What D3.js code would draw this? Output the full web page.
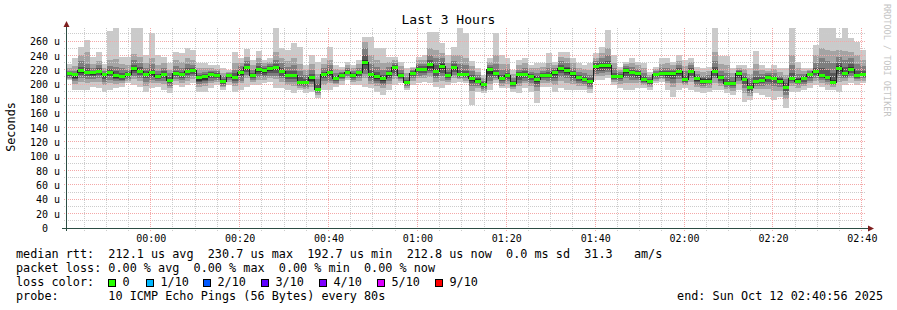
<!DOCTYPE html>
<html>
<head>
<meta charset="utf-8">
<script src="https://cdn.jsdelivr.net/npm/d3@7"></script>
<style>
  body{margin:0;background:#fff}
  svg{display:block}
  text{font-family:'DejaVu Sans Mono',monospace;fill:#000}
</style>
</head>
<body>
<svg id="chart" width="897" height="310"></svg>
<script>
// ---- data (microseconds), one value per 80s step, 23:40:56 -> 02:40:56 ----
const endTime = new Date(2025, 9, 12, 2, 40, 56);
const stepSec = 80;

const median = [214.2,212.8,219.3,216.9,215.6,218.3,212.8,216.5,212.3,210.0,213.7,221.6,218.3,213.7,215.6,210.5,213.7,205.4,215.1,213.7,217.4,218.8,209.5,210.5,213.7,211.9,203.5,211.4,209.5,216.5,223.4,211.9,220.2,218.8,
  222.0,223.4,218.3,212.3,212.3,201.7,201.7,209.1,192.7,212.8,215.6,207.7,212.3,216.9,211.9,215.6,230.7,212.8,210.5,207.2,215.1,223.0,211.9,201.7,215.1,220.7,220.7,226.7,217.9,224.8,211.9,223.0,212.8,212.8,
  208.1,204.4,198.9,220.2,214.2,207.2,211.9,200.7,212.8,213.7,210.5,206.7,211.9,211.9,215.6,222.0,219.3,215.1,209.1,206.7,203.5,223.9,225.3,225.3,210.0,210.9,218.8,216.0,214.2,206.7,203.5,212.8,214.2,
  214.2,214.2,217.4,206.7,218.3,207.2,204.4,204.4,218.3,208.6,201.2,200.7,215.1,206.7,195.6,203.5,205.4,209.5,208.1,204.4,195.6,208.1,204.4,207.2,212.8,217.4,211.4,209.1,202.6,222.0,214.2,220.7,211.9,212.8];

// sorted pings: ping1 = fastest ... ping10 = slowest
const ping1 = [205.8,191.9,191.9,191.9,196.6,194.2,189.6,191.9,194.2,196.6,201.2,198.9,196.6,189.6,194.2,196.6,191.9,187.3,198.9,196.6,198.9,201.2,189.6,189.6,194.2,198.9,191.9,198.9,189.6,191.9,196.6,198.9,198.9,201.2,
  203.5,194.2,194.2,191.9,187.3,191.9,187.3,189.6,180.3,191.9,191.9,196.6,198.9,205.8,198.9,198.9,196.6,194.2,189.6,185.0,191.9,198.9,201.2,191.9,198.9,201.2,203.5,201.2,196.6,194.2,198.9,201.2,203.5,201.2,
  171.1,189.6,187.3,191.9,201.2,194.2,194.2,189.6,187.3,194.2,189.6,173.4,196.6,196.6,189.6,194.2,191.9,191.9,191.9,191.9,187.3,205.8,205.8,208.1,198.9,194.2,191.9,191.9,194.2,194.2,191.9,201.2,203.5,
  191.9,182.6,191.9,194.2,191.9,189.6,187.3,189.6,191.9,191.9,187.3,185.0,191.9,175.7,178.0,187.3,185.0,182.6,178.0,182.6,166.4,189.6,189.6,191.9,194.2,198.9,196.6,191.9,191.9,189.6,198.9,201.2,198.9,201.2];
const ping10 = [227.6,236.0,252.2,261.4,238.3,245.2,227.6,274.0,277.7,238.3,238.3,277.7,277.7,240.6,270.7,240.6,238.3,229.0,244.3,242.9,249.9,247.5,229.0,229.0,226.7,226.7,222.0,219.7,245.2,236.9,248.9,233.6,246.1,233.6,
  236.0,277.7,249.9,247.5,256.8,252.2,226.7,240.6,231.3,236.0,252.2,226.7,224.4,231.3,226.7,233.6,266.1,266.1,249.9,249.9,238.3,238.3,231.3,222.0,224.4,238.3,240.6,273.0,273.0,256.8,240.6,252.2,277.7,270.7,
  232.2,222.0,212.8,236.0,270.7,240.6,236.9,219.7,233.6,236.0,226.7,229.0,229.0,242.9,231.3,245.2,245.2,236.0,229.0,226.7,229.0,242.9,252.2,275.4,240.6,224.4,231.3,236.9,230.4,229.0,217.4,224.4,236.0,
  236.0,231.3,240.6,233.6,236.0,224.4,222.0,224.4,277.7,239.7,239.7,222.0,226.7,226.7,222.0,246.1,226.7,222.0,226.7,222.0,222.0,277.7,231.3,222.0,222.0,254.5,277.7,277.7,277.7,263.8,277.7,263.8,259.1,247.5];
const ping2 = [207,200,203,202,203,203,199,201,200,201,204,207,204,198,202,201,200,194,204,202,205,207,196,197,201,203,196,203,198,201,208,203,206,206,
  208,207,203,199,198,195,193,196,185,199,201,200,204,209,203,204,208,200,198,195,200,207,205,195,205,208,209,210,203,205,203,208,207,205,
  190,195,191,200,206,198,200,193,197,201,198,190,202,202,199,204,202,200,198,197,193,211,212,213,203,200,202,201,202,199,196,205,207,
  201,196,202,199,203,196,194,195,202,198,193,191,200,188,184,193,193,193,190,191,179,197,195,197,201,205,202,199,196,203,205,208,204,205];
const ping9 = [222,225,240,245,228,232,222,234,235,228,227,242,238,230,236,226,229,220,233,231,236,233,222,222,222,221,215,217,229,230,238,226,236,229,
  231,245,236,232,236,228,220,228,214,228,234,221,220,226,222,228,258,240,234,230,231,234,225,215,222,233,234,250,248,244,230,240,240,236,
  225,217,209,231,240,228,228,214,227,229,222,222,224,230,227,238,236,230,223,221,220,237,243,250,230,220,228,230,226,222,213,221,228,
  229,226,232,225,231,219,217,218,245,228,226,215,223,221,214,228,220,218,221,217,213,240,222,218,220,240,250,248,246,248,246,245,240,234];
const ping3 = [209,204,208,207,207,209,203,206,204,204,207,212,209,203,206,204,204,198,207,206,209,211,200,201,205,206,198,206,202,205,213,206,210,210,
  212,212,208,203,203,197,196,200,188,204,205,202,207,211,206,208,214,204,202,199,205,212,207,197,208,212,213,215,208,211,206,213,209,208,
  197,198,193,205,208.5,201,204,195.5,202,205,202,196,205.5,205,204,210,208,205,201.5,200,196.5,214.5,216,216.5,205.5,204,208,206,206,201.5,198.5,207.5,209,
  205,202,207,201.5,208,199.5,197.5,198.5,208,201.5,196,194.5,204.5,195,188,197,197.5,199,197,196,185,201,198.5,200.5,205,209,205.5,203,198.5,209,208,212,206.5,208];
const ping8 = [219,219,232,228,222,226,218,225,224,222,220,233,230,222,228,219,222,215,225,222,228,227,216,217,219,218,211,215,220,225,232,220,229,225,
  228,234,229,224,226,218,213,220,207,222,227,216,217,222,218,222,250,228,224,220,224,230,220,210,220,228,228,240,236,236,222,232,228,226,
  218,213,205,227,228,220,221,209,220,222,217,216,219,222,223,232,229,223,217,215,213,232,236,240,222,217,225,224,221,216,210,218,222,
  223,221,226,218,226,214,212,213,232,219,216,210,220,216,208,218,214,215,216,212,207,226,214,214,218,230,236,232,230,238,234,236,228,225];
const ping4 = [211,207,213,211,211,213,207,211,207,206,210,216,213,208,210,207,208,201,211,209,213,214,203,204,208,208.5,200,208,205,210,217,208.5,214,213,
  215,216,212,207,207,199,198.5,203,190,208,210,204,209,213.5,208.5,211,220,208,205,202,209,216,209,199,211,215,216,219,212,216,208.5,217,210.5,210,
  202,201,195.5,210,211,204,207.5,197.5,206,209,205.5,200,208,208,209,215,213,209,204.5,203,199.5,218,219,220,207.5,207,212,210,209,203.5,200.5,210,211,
  209,207,211,203.5,212,202.5,200.5,201,212,204.5,198.5,197,208.5,200,191,200,201,203.5,202,200,190,204.5,201.5,203.5,208.5,213,208,206,200.5,214,210.5,215.5,209,210.5];
const ping7 = [217,216,224,222,219,222,216,221,218,216,217,227,224,218,221,214,218,210,219,217,222,223,213,214,217,215,207,213.5,215,221,228,216,225,222,
  225.5,228,223,218,219,210,207,214,200,217,221,212,215,220,215.5,219,240,220,217,213,219,227,216,206,218,225,225,233,226,231,217,228,220,219,
  213,209,202.5,224,220,213,216,205,217,218,214,211,216,217,220,227,224,219,213,211,208,229,231,232,215,214,222,220,218,211,207,216,218,
  219,218,222,211,222,211,208,208,224,213,207,205,218,212,201,210,210,213,212,208,201,215,209,211,216,223,222,220,216,230,224,228,219,218];
const ping5 = [212.5,208,216,214,213,216,210,214,209,208,212,219,216,211,213,208.5,211,203,213,211.5,215,216.5,205,206,211,210,201.5,209.5,207,213,220,210,217,216,
  218,220,215,209.5,209.5,200,200,205,191,210.5,213,205.5,210.5,215,210,213.5,226,210.5,207.5,204.5,212,220,210.5,200,213,218,218.5,223,215,221,210,220,211.5,211.5,
  205,202.5,197,214,212.5,205.5,210,199,209.5,211.5,208,203.5,210,210,212.5,219,216,212,207,205,201.5,221,222.5,223,208.5,209,216,213.5,212,205,202,211.5,212.5,
  212,211,214.5,205,215.5,205,202.5,203,215.5,206.5,200,199,212,204,193.5,202,203.5,207,205.5,202.5,193,206.5,203,205.5,211,215.5,210,207.5,201.5,218.5,212.5,218.5,210.5,211.5];
const ping6 = [215.5,214,221,219,217,220,214.5,218,214,212,215.5,224,220,215.5,217,212,215.5,207,217,215.5,219,220.5,211,212,215.5,213.5,205,212.5,211,218,225,213.5,222,220.5,
  223.5,225,220,214,214,204,203.5,210.5,195,214.5,217.5,209.5,213.5,218.5,213.5,217.5,234,215,212.5,209.5,217,225,213.5,203.5,217,223,223,229.5,220.5,227.5,214,225.5,215,215,
  210.5,206.5,201,222,216,209.5,214,203,215,216,212.5,209,214,214,218,224.5,222,217,211,209,205.5,226,228,228,212,213,221,218,216,209,205.5,214.5,216,
  216,216,219.5,209,220,209,206.5,206.5,220.5,211,203.5,203,217,209,198,205.5,207.5,211.5,210,206.5,198,210.5,206.5,209,214.5,219.5,214,212,205.5,225,217,223.5,214,215];

// axis ticks and legend text
const yTicks = [0, 20, 40, 60, 80, 100, 120, 140, 160, 180, 200, 220, 240, 260];
const yMinor = [10, 30, 50, 70, 90, 110, 130, 150, 170, 190, 210, 230, 250, 270];
const legendLines = [
  'median rtt:  212.1 us avg  230.7 us max  192.7 us min  212.8 us now  0.0 ms sd  31.3   am/s',
  'packet loss: 0.00 % avg  0.00 % max  0.00 % min  0.00 % now',
  'loss color:',
  'probe:       10 ICMP Echo Pings (56 Bytes) every 80s'
];
const lossLabels = ['0', '1/10', '2/10', '3/10', '4/10', '5/10', '9/10'];
const lossColors = ['#26ff00', '#00b8ff', '#0059ff', '#5e00ff', '#7e00ff', '#dd00ff', '#ff0000'];
const endLabel = 'end: Sun Oct 12 02:40:56 2025';

// ---- chart ----
const svg = d3.select('#chart');
const pL = 66, pR = 866, pT = 28, pB = 228;
const n = median.length;
const startTime = new Date(endTime.getTime() - n * stepSec * 1000);
const tAt = i => new Date(startTime.getTime() + i * stepSec * 1000);

const x = d3.scaleTime().domain([startTime, endTime]).range([pL, pR]);
const y = d3.scaleLinear().domain([0, 278.1]).range([pB, pT]).clamp(true);

svg.append('rect').attr('width', 897).attr('height', 310).attr('fill', '#fff');

// smoke bands
const bands = [
  [ping1, ping10, '#cacaca'],
  [ping2, ping9, '#a4a4a4'],
  [ping3, ping8, '#7e7e7e'],
  [ping4, ping7, '#585858'],
  [ping5, ping6, '#323232']
];
const idx = d3.range(n + 1);
const gSmoke = svg.append('g').attr('shape-rendering', 'crispEdges');
bands.forEach(([lo, hi, col]) => {
  const area = d3.area()
    .x(i => x(tAt(i)))
    .y0(i => y(lo[Math.min(i, n - 1)]))
    .y1(i => y(hi[Math.min(i, n - 1)]))
    .curve(d3.curveStepAfter);
  gSmoke.append('path').attr('d', area(idx)).attr('fill', col);
});

// grid (drawn over the smoke like rrdtool), 1px dotted
const gGrid = svg.append('g').attr('stroke-dasharray', '1,1').attr('stroke-width', 1);
const px = v => Math.floor(v) + 0.5;
const minorT = d3.timeMinute.every(5).range(startTime, endTime).filter(d => d.getMinutes() % 20 !== 0);
const majorT = d3.timeMinute.every(20).range(startTime, endTime);
const gridMinor = '#cccccc', gridMajor = '#f4a8a8';
gGrid.selectAll('.hmin').data(yMinor).enter().append('line')
  .attr('x1', pL - 2).attr('x2', pR).attr('y1', d => px(y(d))).attr('y2', d => px(y(d)))
  .attr('stroke', gridMinor);
gGrid.selectAll('.vmin').data(minorT).enter().append('line')
  .attr('x1', d => px(x(d))).attr('x2', d => px(x(d))).attr('y1', pT).attr('y2', pB + 3)
  .attr('stroke', gridMinor);
gGrid.selectAll('.hmaj').data(yTicks.slice(1)).enter().append('line')
  .attr('x1', pL - 2).attr('x2', pR).attr('y1', d => px(y(d))).attr('y2', d => px(y(d)))
  .attr('stroke', gridMajor);
gGrid.selectAll('.vmaj').data(majorT).enter().append('line')
  .attr('x1', d => px(x(d))).attr('x2', d => px(x(d))).attr('y1', pT).attr('y2', pB + 3)
  .attr('stroke', gridMajor);

// median: dark stepped line + loss-coloured boxes
const medLine = d3.line()
  .x(i => x(tAt(i)))
  .y(i => y(median[Math.min(i, n - 1)]))
  .curve(d3.curveStepAfter);
svg.append('path').attr('d', medLine(idx)).attr('fill', 'none')
  .attr('stroke', '#202020').attr('stroke-width', 1).attr('shape-rendering', 'crispEdges');
svg.append('g').attr('shape-rendering', 'crispEdges')
  .selectAll('rect').data(median).enter().append('rect')
  .attr('x', (d, i) => x(tAt(i)))
  .attr('width', (d, i) => x(tAt(i + 1)) - x(tAt(i)))
  .attr('y', d => y(d) - 1.5)
  .attr('height', 3)
  .attr('fill', lossColors[0]);

// axes
const axisCol = '#2c4d43', arrowCol = '#7f1f1f';
svg.append('line').attr('x1', pL - 4).attr('x2', pR + 3).attr('y1', pB + 0.5).attr('y2', pB + 0.5)
  .attr('stroke', axisCol).attr('shape-rendering', 'crispEdges');
svg.append('line').attr('x1', pL + 0.5).attr('x2', pL + 0.5).attr('y1', pB + 3).attr('y2', pT - 3)
  .attr('stroke', axisCol).attr('shape-rendering', 'crispEdges');
svg.append('path').attr('d', `M${pL + 0.5},${pT - 7}L${pL - 2.5},${pT - 1}L${pL + 3.5},${pT - 1}Z`).attr('fill', arrowCol);
svg.append('path').attr('d', `M${pR + 8},${pB + 0.5}L${pR + 2},${pB - 2.5}L${pR + 2},${pB + 3.5}Z`).attr('fill', arrowCol);

const yAxis = d3.axisLeft(y).tickValues(yTicks).tickSize(0).tickPadding(0)
  .tickFormat(d => d === 0 ? '0  ' : d + ' u');
const gy = svg.append('g').attr('transform', 'translate(60,0.5)').call(yAxis);
gy.select('.domain').remove();
gy.selectAll('text').attr('font-family', "'DejaVu Sans Mono',monospace").attr('font-size', '10px')
  .style('white-space', 'pre').attr('fill', '#000');

const xAxis = d3.axisBottom(x).tickValues(majorT).tickSize(0).tickPadding(7).tickFormat(d3.timeFormat('%H:%M'));
const gx = svg.append('g').attr('transform', `translate(0,${pB})`).call(xAxis);
gx.select('.domain').remove();
gx.selectAll('text').attr('font-family', "'DejaVu Sans Mono',monospace").attr('font-size', '10px').attr('fill', '#000');

// titles
svg.append('text').attr('x', 448.5).attr('y', 24).attr('text-anchor', 'middle')
  .attr('font-size', '13px').text('Last 3 Hours');
svg.append('text').attr('transform', 'translate(15,127) rotate(-90)').attr('text-anchor', 'middle')
  .attr('font-size', '11.8px').text('Seconds');
svg.append('text').attr('transform', 'translate(884,4) rotate(90)')
  .attr('font-size', '8.5px').style('fill', '#c4c4c4').text('RRDTOOL / TOBI OETIKER');

// legend
const lineY = [258, 272, 286, 300];
legendLines.forEach((t, i) => {
  svg.append('text').attr('x', 16).attr('y', lineY[i]).attr('font-size', '11.8px')
    .style('white-space', 'pre').text(t);
});
const boxX = [108, 146, 203, 261, 319, 377, 435];
lossLabels.forEach((lab, i) => {
  svg.append('rect').attr('x', boxX[i] + 0.5).attr('y', 279.5).attr('width', 7).attr('height', 7)
    .attr('fill', lossColors[i]).attr('stroke', '#000').attr('shape-rendering', 'crispEdges');
  svg.append('text').attr('x', boxX[i] + 14.5).attr('y', lineY[2]).attr('font-size', '11.8px').text(lab);
});
svg.append('text').attr('x', 883).attr('y', lineY[3]).attr('text-anchor', 'end')
  .attr('font-size', '11.8px').text(endLabel);
</script>
</body>
</html>
